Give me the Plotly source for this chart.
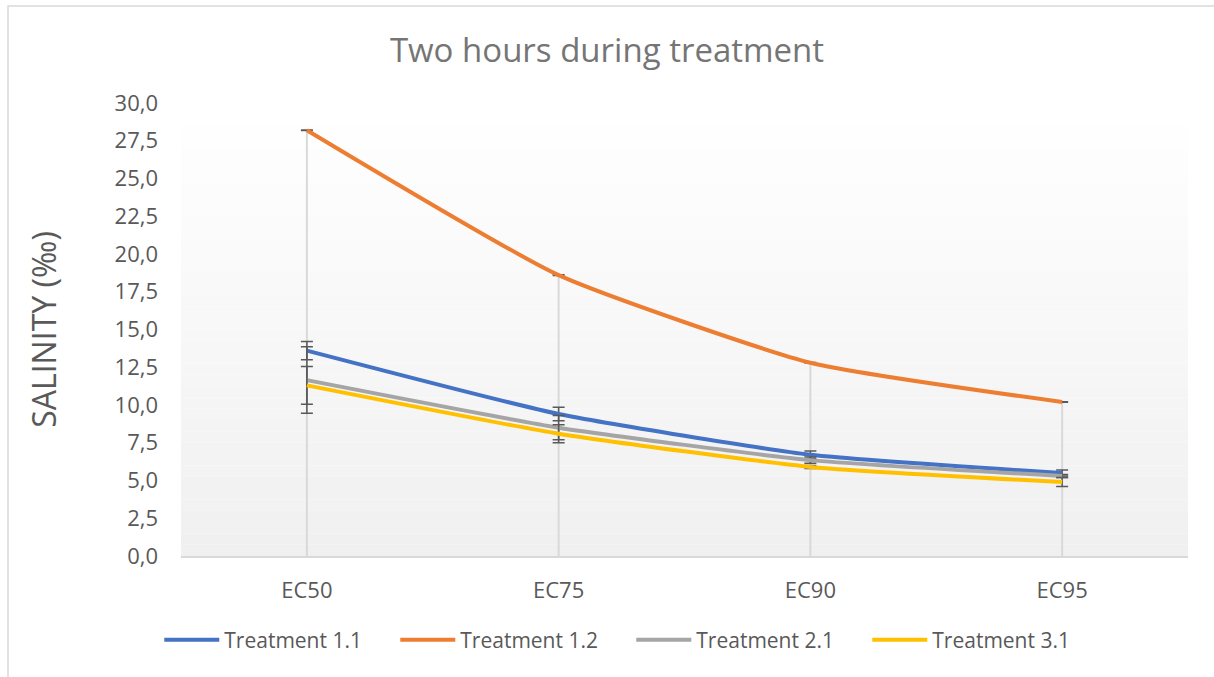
import plotly.graph_objects as go

categories = ["EC50", "EC75", "EC90", "EC95"]

t11 = [13.6, 9.4, 6.7, 5.5]
t12 = [28.2, 18.6, 12.8, 10.2]
t21 = [11.65, 8.5, 6.35, 5.3]
t31 = [11.3, 8.1, 5.9, 4.9]

t11_err = [0.6, 0.45, 0.25, 0.2]
t12_err = [0.02, 0.02, 0.02, 0.02]
t21_err = [2.2, 0.8, 0.2, 0.1]
t31_err = [1.25, 0.6, 0.1, 0.3]

y_ticks = [0, 2.5, 5, 7.5, 10, 12.5, 15, 17.5, 20, 22.5, 25, 27.5, 30]

series = [
    ("Treatment 1.1", t11, t11_err, "#4472C4"),
    ("Treatment 1.2", t12, t12_err, "#ED7D31"),
    ("Treatment 2.1", t21, t21_err, "#A5A5A5"),
    ("Treatment 3.1", t31, t31_err, "#FFC000"),
]

W, H = 1214, 677
L, R, T, B = 181, 26, 103, 121

fig = go.Figure()

# drop lines from the axis up to the highest point of each category
tops = [max(v) for v in zip(t11, t12, t21, t31)]
dx, dy = [], []
for c, top in zip(categories, tops):
    dx += [c, c, None]
    dy += [0, top, None]
fig.add_trace(go.Scatter(x=dx, y=dy, mode="lines", line=dict(color="#D9D9D9", width=2),
                         showlegend=False, hoverinfo="skip"))

for name, vals, err, col in series:
    fig.add_trace(go.Scatter(
        x=categories, y=vals, name=name, mode="lines",
        line=dict(color=col, width=4, shape="spline", smoothing=0.5),
        error_y=dict(type="data", array=err, visible=True, color="#595959", thickness=1.5, width=6),
    ))

# plot area gradient (white at top, light gray at bottom)
n = 40
shapes = []
for i in range(n):
    f = i / (n - 1)
    g = int(round(255 - (255 - 240) * (1 - f)))
    shapes.append(dict(type="rect", xref="paper", yref="paper", x0=0, x1=1,
                       y0=i / n, y1=(i + 1) / n, fillcolor=f"rgb({g},{g},{g})",
                       line=dict(width=0), layer="below"))
# chart border
pw, ph = W - L - R, H - T - B
shapes.append(dict(type="rect", xref="paper", yref="paper",
                   x0=(8 - L) / pw, x1=(W + 5 - L) / pw,
                   y0=(B - H - 5) / ph, y1=(H - 6 - B) / ph,
                   line=dict(color="#D9D9D9", width=1.5), layer="below"))

fig.update_layout(
    width=W, height=H,
    margin=dict(l=L, r=R, t=T, b=B, autoexpand=False),
    paper_bgcolor="white", plot_bgcolor="rgba(0,0,0,0)",
    separators=",.",
    font=dict(family="Open Sans, Arial, sans-serif", color="#595959", size=21),
    title=dict(text="Two hours during treatment", x=0.5, xref="container", xanchor="center",
               y=1 - 50 / H, yref="container", yanchor="middle",
               font=dict(size=33, color="#757575")),
    shapes=shapes,
    showlegend=True,
    legend=dict(orientation="h", x=0.52, xanchor="center", xref="container",
                y=1 - 640 / H, yref="container", yanchor="middle",
                font=dict(size=21, color="#595959"), itemwidth=55, entrywidth=166,
                bgcolor="rgba(0,0,0,0)"),
    xaxis=dict(range=[-0.5, 3.5], showgrid=False, showline=True, linecolor="#D9D9D9", linewidth=1.5,
               ticks="", ticklabelstandoff=14, tickfont=dict(size=22, color="#595959"),
               fixedrange=True),
    yaxis=dict(range=[0, 30], tickvals=y_ticks, tickformat=".1f", showgrid=False,
               zeroline=False, showline=False, ticks="", ticklabelstandoff=22,
               tickfont=dict(size=22, color="#595959"), fixedrange=True,
               title=dict(text="SALINITY (‰)", font=dict(size=32, color="#595959"), standoff=48)),
)

fig.write_html("out.html", config={"displayModeBar": False},
               post_script="document.body.style.margin='0';")
